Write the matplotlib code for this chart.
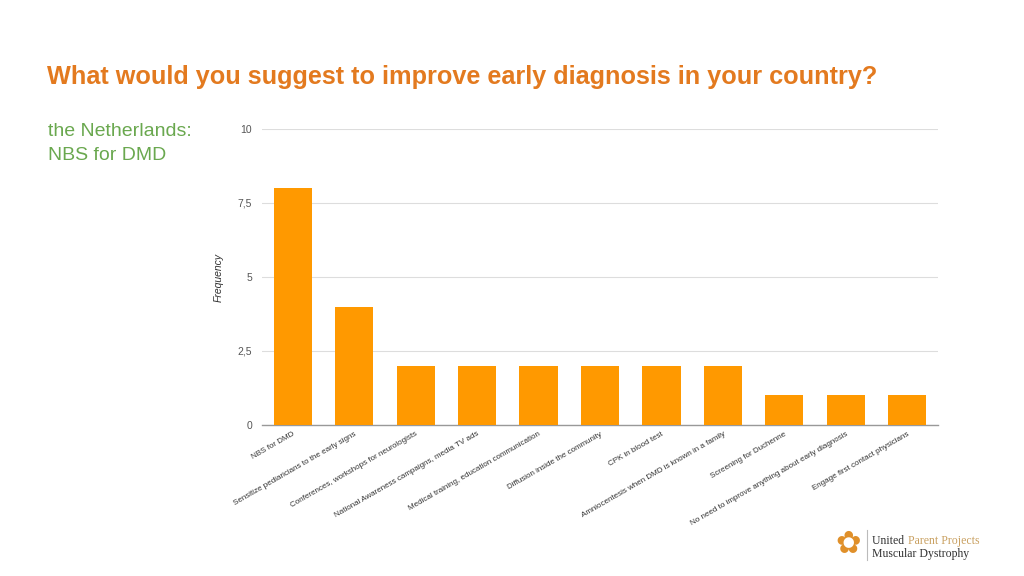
import matplotlib
matplotlib.use("Agg")
import matplotlib.pyplot as plt

categories = [
    "NBS for DMD",
    "Sensitize pediaricians to the early signs",
    "Conferences, workshops for neurologists",
    "National Awareness campaigns, media TV ads",
    "Medical training, education communication",
    "Diffusion inside the community",
    "CPK in blood test",
    "Amniocentesis when DMD is known in a family",
    "Screening for Duchenne",
    "No need to improve anything about early diagnosis",
    "Engage first contact physicians",
]
values = [8, 4, 2, 2, 2, 2, 2, 2, 1, 1, 1]
yticks = [0, 2.5, 5, 7.5, 10]
ytick_labels = ["0", "2,5", "5", "7,5", "10"]

plt.rcParams['font.family'] = ['Liberation Sans', 'DejaVu Sans']

fig = plt.figure(figsize=(10.24, 5.76), dpi=100)
ax = fig.add_axes([262/1024, 1-425/576, 676/1024, 296/576])

x = list(range(len(categories)))
ax.bar(x, values, width=0.62, color="#FF9900", zorder=3)
ax.set_xlim(-0.5, len(categories)-0.5)
ax.set_ylim(0, 10)
ax.set_yticks(yticks)
ax.set_yticklabels(ytick_labels, color="#555555", fontsize=7.5)
ax.yaxis.grid(True, color="#dddddd", linewidth=0.8, zorder=0)
ax.tick_params(axis='y', length=0, pad=7)
ax.tick_params(axis='x', length=0, pad=4)
ax.set_xticks(x)
ax.set_xticklabels(categories, rotation=30, ha='right', rotation_mode='anchor',
                   fontsize=5.8, color="#333333")
for s in ['top', 'right', 'left']:
    ax.spines[s].set_visible(False)
ax.spines['bottom'].set_color("#999999")
ax.spines['bottom'].set_linewidth(1.0)
ax.set_ylabel("Frequency", fontsize=7.5, style='italic', color="#333333", labelpad=10)

fig.text(47/1024, 1-77/576, "What would you suggest to improve early diagnosis in your country?",
         fontsize=18.2, fontweight='bold', color="#E37A1F", va='center', ha='left')
fig.text(48/1024, 1-131/576, "the Netherlands:", fontsize=14, color="#6AA84F", va='center')
fig.text(48/1024, 1-155/576, "NBS for DMD", fontsize=14, color="#6AA84F", va='center')

# logo
fig.text(872/1024, 1-541/576, "United ", fontsize=8.5, family='Liberation Serif', color="#333333", va='center')
fig.text(908/1024, 1-541/576, "Parent Projects", fontsize=8.5, family='Liberation Serif', color="#C9A060", va='center')
fig.text(872/1024, 1-554/576, "Muscular Dystrophy", fontsize=8.5, family='Liberation Serif', color="#333333", va='center')
fig.add_artist(plt.Line2D([867/1024, 867/1024], [1-530/576, 1-560/576], color="#bbbbbb", lw=0.8))
fig.text(848/1024, 1-545/576, "\u273F", fontsize=22, color="#E0902A", family='DejaVu Sans', ha='center', va='center')

fig.savefig("out.png", dpi=100)
